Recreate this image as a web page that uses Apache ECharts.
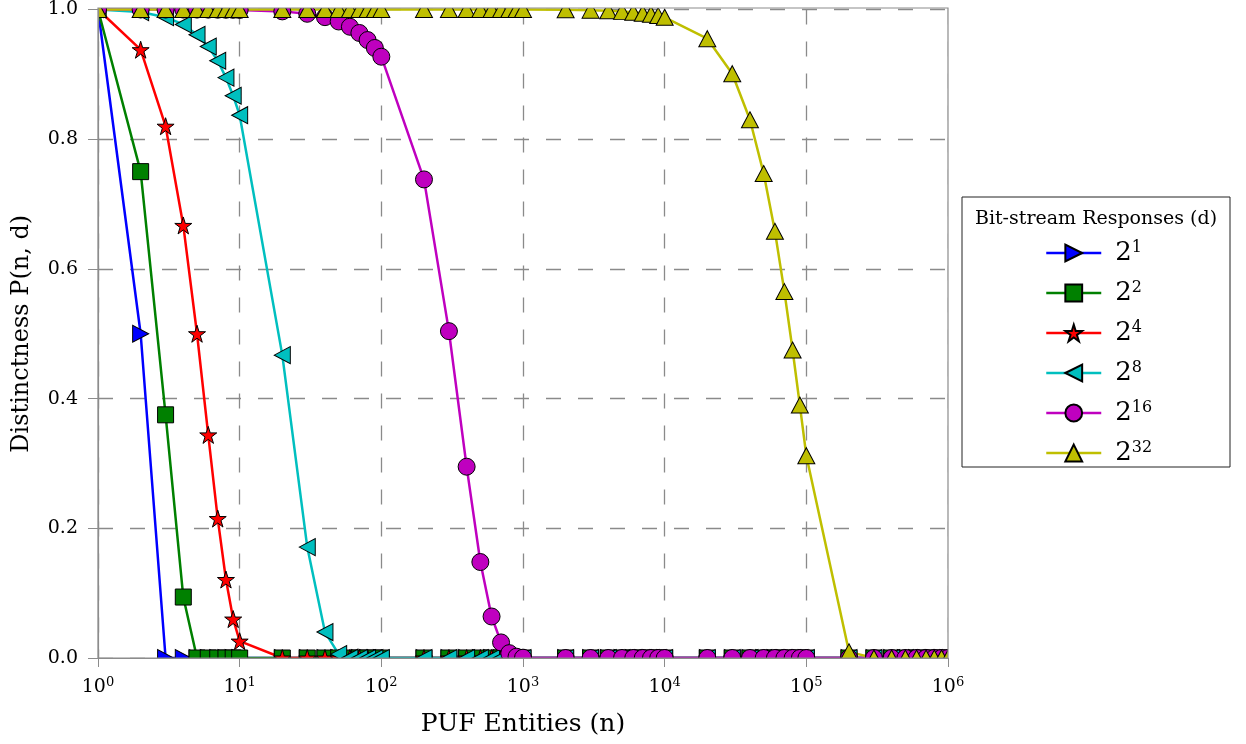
<!DOCTYPE html>
<html>
<head>
<meta charset="utf-8">
<script src="https://cdn.jsdelivr.net/npm/echarts@6/dist/echarts.min.js"></script>
<style>
html, body { margin: 0; padding: 0; background: #fff; }
#chart { width: 1246px; height: 744px; }
</style>
</head>
<body>
<div id="chart"></div>
<script>
// sample points n (PUF entities)
const entities = [
  1, 2, 3, 4, 5, 6, 7, 8, 9,
  10, 20, 30, 40, 50, 60, 70, 80, 90,
  100, 200, 300, 400, 500, 600, 700, 800, 900,
  1000, 2000, 3000, 4000, 5000, 6000, 7000, 8000, 9000,
  10000, 20000, 30000, 40000, 50000, 60000, 70000, 80000, 90000,
  100000, 200000, 300000, 400000, 500000, 600000, 700000, 800000, 900000,
  1000000
]

const seriesNames = ['2^1', '2^2', '2^4', '2^8', '2^16', '2^32']

const zeros = n => new Array(n).fill(0)

const pD1 = [1, 0.5, 0, 0, 0, 0, 0, 0, 0, 0].concat(zeros(45))
const pD2 = [1, 0.75, 0.375, 0.094, 0, 0, 0, 0, 0, 0].concat(zeros(45))
const pD4 = [1, 0.938, 0.820, 0.667, 0.500, 0.344, 0.215, 0.121, 0.060, 0.026].concat(zeros(45))
const pD8 = [1, 0.996, 0.988, 0.977, 0.961, 0.943, 0.921, 0.895, 0.867,
  0.837, 0.467, 0.171, 0.040, 0.006, 0.0005, 0, 0, 0].concat(zeros(37))
const pD16 = [1, 1, 0.9999, 0.9999, 0.9999, 0.9998, 0.9997, 0.9996, 0.9995,
  0.9993, 0.9971, 0.9934, 0.9882, 0.9815, 0.9734, 0.9638, 0.9529, 0.9407,
  0.9272, 0.738, 0.504, 0.295, 0.148, 0.064, 0.024, 0.0075, 0.002,
  0.0005].concat(zeros(27))
const pD32 = [1, 1, 1, 1, 1, 1, 1, 1, 1,
  1, 1, 1, 1, 1, 1, 1, 1, 1,
  1, 1, 1, 1, 1, 1, 0.9999, 0.9999, 0.9999,
  0.9999, 0.9995, 0.9990, 0.9981, 0.9971, 0.9958, 0.9943, 0.9926, 0.9906,
  0.988, 0.955, 0.901, 0.830, 0.747, 0.658, 0.565, 0.475, 0.390,
  0.312, 0.0095, 0, 0, 0, 0, 0, 0, 0,
  0]

const values = [pD1, pD2, pD4, pD8, pD16, pD32]

const FONT = '"DejaVu Serif", serif'
const plot = { left: 98, top: 8, right: 948, bottom: 658 }

const starPath = 'path://M50,0L61.2,34.5L97.6,34.5L68.2,55.9L79.4,90.5L50,69.1L20.6,90.5L31.8,55.9L2.4,34.5L38.8,34.5Z'
const looks = [
  { color: '#0000ff', symbol: 'triangle', rotate: -90, size: [17, 16] },
  { color: '#008000', symbol: 'rect', rotate: 0, size: 16 },
  { color: '#ff0000', symbol: starPath, rotate: 0, size: 17 },
  { color: '#00bfbf', symbol: 'triangle', rotate: 90, size: [17, 16] },
  { color: '#bf00bf', symbol: 'circle', rotate: 0, size: 17 },
  { color: '#bfbf00', symbol: 'triangle', rotate: 0, size: [17, 16] }
]

const series = seriesNames.map((name, i) => ({
  name,
  type: 'line',
  xAxisIndex: 0,
  yAxisIndex: 0,
  data: entities.map((n, k) => [n, values[i][k]]),
  symbol: looks[i].symbol,
  symbolRotate: looks[i].rotate,
  symbolSize: looks[i].size,
  showAllSymbol: true,
  clip: false,
  lineStyle: { color: looks[i].color, width: 2.5 },
  itemStyle: { color: looks[i].color, borderColor: '#000', borderWidth: 1 },
  emphasis: { disabled: true },
  z: 2
}))

const supLabel = v => '{b|10}{sup|' + Math.round(Math.log10(v)) + '}'
const gridColor = '#8a8a8a'
const axisColor = '#8c8c8c'

const chart = echarts.init(document.getElementById('chart'))
chart.setOption({
  animation: false,
  backgroundColor: '#fff',
  grid: { left: plot.left, top: plot.top, right: 1246 - plot.right, bottom: 744 - plot.bottom },
  xAxis: [
    {
      type: 'log', logBase: 10, min: 1, max: 1000000, splitNumber: 6,
      position: 'bottom', z: 0,
      axisLine: { show: false }, axisTick: { show: false }, axisLabel: { show: false },
      splitLine: { show: true, lineStyle: { color: gridColor, type: [15, 17], width: 1.3 } }
    },
    {
      type: 'log', logBase: 10, min: 1, max: 1000000, splitNumber: 6,
      position: 'bottom', z: 100,
      name: 'PUF Entities (n)', nameLocation: 'middle', nameGap: 54,
      nameTextStyle: { fontFamily: FONT, fontSize: 25, color: '#000' },
      axisLine: { show: true, lineStyle: { color: axisColor, width: 1.2 } },
      axisTick: { show: true, length: 9, lineStyle: { color: axisColor } },
      splitLine: { show: false },
      axisLabel: {
        margin: 18, color: '#000', fontFamily: FONT, fontSize: 19,
        showMinLabel: true, showMaxLabel: true,
        formatter: supLabel,
        rich: {
          b: { fontFamily: FONT, fontSize: 19, lineHeight: 22, color: '#000' },
          sup: { fontFamily: FONT, fontSize: 13, lineHeight: 13, verticalAlign: 'top', color: '#000' }
        }
      }
    }
  ],
  yAxis: [
    {
      type: 'value', min: 0, max: 1, interval: 0.2, position: 'left', z: 0,
      axisLine: { show: false }, axisTick: { show: false }, axisLabel: { show: false },
      splitLine: { show: true, lineStyle: { color: gridColor, type: [15, 17], width: 1.3 } }
    },
    {
      type: 'value', min: 0, max: 1, interval: 0.2, position: 'left', z: 100,
      name: 'Distinctness P(n, d)', nameLocation: 'middle', nameGap: 64, nameRotate: 90,
      nameTextStyle: { fontFamily: FONT, fontSize: 24, color: '#000' },
      axisLine: { show: true, lineStyle: { color: axisColor, width: 1.2 } },
      axisTick: { show: true, length: 10, lineStyle: { color: axisColor } },
      splitLine: { show: false },
      axisLabel: {
        margin: 20, color: '#000', fontFamily: FONT, fontSize: 19,
        formatter: v => v.toFixed(1)
      }
    }
  ],
  legend: {
    orient: 'vertical',
    left: 1040, top: 235,
    itemWidth: 55, itemHeight: 21, itemGap: 14,
    symbolRotate: 'inherit',
    selectedMode: false,
    lineStyle: { width: 2.5 },
    formatter: name => {
      const parts = name.split('^')
      return '{b|' + parts[0] + '}{sup|' + parts[1] + '}'
    },
    textStyle: {
      color: '#000', fontFamily: FONT, fontSize: 26, padding: [0, 0, 0, 9],
      rich: {
        b: { fontFamily: FONT, fontSize: 26, lineHeight: 26, color: '#000' },
        sup: { fontFamily: FONT, fontSize: 16, lineHeight: 16, verticalAlign: 'top', color: '#000' }
      }
    }
  },
  graphic: [
    // white strips that clip the markers at the plot frame
    { type: 'rect', z: 50, silent: true, shape: { x: 80, y: 0, width: 882, height: plot.top }, style: { fill: '#fff' } },
    { type: 'rect', z: 50, silent: true, shape: { x: 80, y: plot.bottom, width: 882, height: 14 }, style: { fill: '#fff' } },
    { type: 'rect', z: 50, silent: true, shape: { x: 80, y: 0, width: plot.left - 80, height: plot.bottom + 14 }, style: { fill: '#fff' } },
    { type: 'rect', z: 50, silent: true, shape: { x: plot.right, y: 0, width: 13, height: plot.bottom + 14 }, style: { fill: '#fff' } },
    // frame
    { type: 'rect', z: 60, silent: true,
      shape: { x: plot.left, y: plot.top, width: plot.right - plot.left, height: plot.bottom - plot.top },
      style: { fill: null, stroke: axisColor, lineWidth: 1.2 } },
    // legend box and title
    { type: 'rect', z: 1, silent: true, shape: { x: 962, y: 197, width: 268, height: 270 },
      style: { fill: null, stroke: '#222', lineWidth: 1 } },
    { type: 'text', z: 60, silent: true, x: 1096, y: 219,
      style: { text: 'Bit-stream Responses (d)', fontFamily: FONT, fontSize: 19, fill: '#000',
        textAlign: 'center', textVerticalAlign: 'middle' } }
  ],
  series
})
</script>
</body>
</html>
